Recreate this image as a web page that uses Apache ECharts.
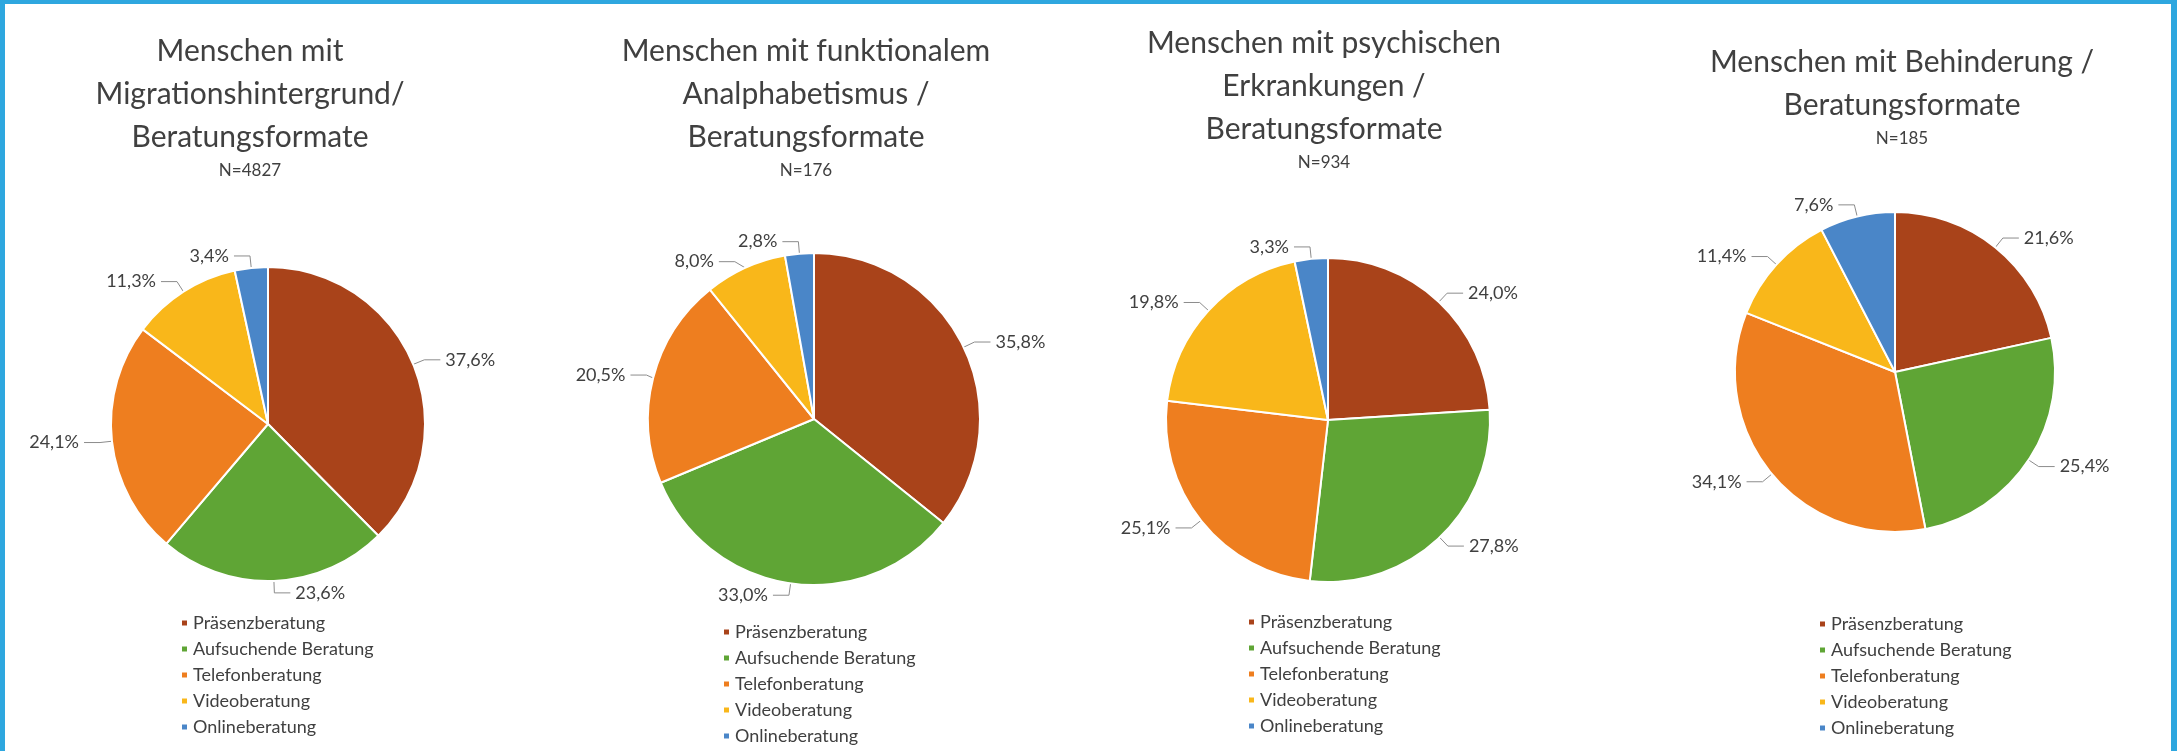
<!DOCTYPE html>
<html>
<head>
    <meta charset="utf-8">
    <title>Beratungsformate</title>
    <style>
        html, body { margin: 0; padding: 0; background: #fff; }
        #main { width: 2177px; height: 751px; }
    </style>
</head>
<body>
    <div id="main"></div>
    <script src="https://cdn.jsdelivr.net/npm/echarts@6/dist/echarts.min.js"></script>
    <script type="text/javascript">
        // Daten
        var categories = ['Präsenzberatung', 'Aufsuchende Beratung', 'Telefonberatung', 'Videoberatung', 'Onlineberatung'];
        var migration = [37.6, 23.6, 24.1, 11.3, 3.4];
        var analphabetismus = [35.8, 33.0, 20.5, 8.0, 2.8];
        var psychisch = [24.0, 27.8, 25.1, 19.8, 3.3];
        var behinderung = [21.6, 25.4, 34.1, 11.4, 7.6];
        var titles = [
            'Menschen mit\nMigrationshintergrund/\nBeratungsformate',
            'Menschen mit funktionalem\nAnalphabetismus /\nBeratungsformate',
            'Menschen mit psychischen\nErkrankungen /\nBeratungsformate',
            'Menschen mit Behinderung /\nBeratungsformate'
        ];
        var sampleSizes = ['N=4827', 'N=176', 'N=934', 'N=185'];

        var colors = ['#a9431a', '#5fa535', '#ee7e1f', '#f9b71a', '#4a86c8'];
        var font = 'Lato';
        var textColor = '#404040';

        // Layout je Diagramm: Mittelpunkt, Radius, Titel, Legende
        var panels = [
            { values: migration,       cx: 268,  cy: 424, r: 157, tx: 245,  ty: 25, lx: 180,  ly: 614 },
            { values: analphabetismus, cx: 814,  cy: 419, r: 166, tx: 801,  ty: 25, lx: 722,  ly: 623 },
            { values: psychisch,       cx: 1328, cy: 420, r: 162, tx: 1319, ty: 17, lx: 1247, ly: 613 },
            { values: behinderung,     cx: 1895, cy: 372, r: 160, tx: 1897, ty: 36, lx: 1818, ly: 615 }
        ];

        var myChart = echarts.init(document.getElementById('main'));

        var option = {
            backgroundColor: '#ffffff',
            color: colors,
            title: [],
            legend: [],
            series: [],
            graphic: [
                { type: 'rect', shape: { x: 0, y: 0, width: 2177, height: 4 }, style: { fill: '#2ea7df' } },
                { type: 'rect', shape: { x: 0, y: 0, width: 5, height: 751 }, style: { fill: '#2ea7df' } },
                { type: 'rect', shape: { x: 2171, y: 0, width: 6, height: 751 }, style: { fill: '#2ea7df' } }
            ]
        };

        panels.forEach(function (p, i) {
            option.title.push({
                text: titles[i],
                subtext: sampleSizes[i],
                left: p.tx,
                top: p.ty,
                textAlign: 'center',
                itemGap: 2,
                textStyle: { fontFamily: font, fontSize: 30, fontWeight: 'normal', color: textColor, lineHeight: 43 },
                subtextStyle: { fontFamily: font, fontSize: 17, color: textColor, lineHeight: 20 }
            });
            option.legend.push({
                data: categories,
                orient: 'vertical',
                left: p.lx,
                top: p.ly,
                padding: 0,
                icon: 'rect',
                itemWidth: 7,
                itemHeight: 7,
                itemGap: 8,
                selectedMode: false,
                textStyle: { fontFamily: font, fontSize: 18, color: textColor, lineHeight: 18 }
            });
            option.series.push({
                type: 'pie',
                center: [p.cx, p.cy],
                radius: p.r,
                startAngle: 90,
                clockwise: true,
                animation: false,
                itemStyle: { borderColor: '#ffffff', borderWidth: 2 },
                label: {
                    show: true,
                    position: 'outside',
                    fontFamily: font,
                    fontSize: 18,
                    color: textColor,
                    formatter: function (d) {
                        return d.value.toFixed(1).replace('.', ',') + '%';
                    }
                },
                labelLine: { show: true, length: 12, length2: 16, lineStyle: { color: '#8c8c8c', width: 1 } },
                emphasis: { disabled: true },
                data: categories.map(function (name, k) {
                    return { name: name, value: p.values[k], itemStyle: { color: colors[k] } };
                })
            });
        });

        myChart.setOption(option);
    </script>
</body>
</html>
